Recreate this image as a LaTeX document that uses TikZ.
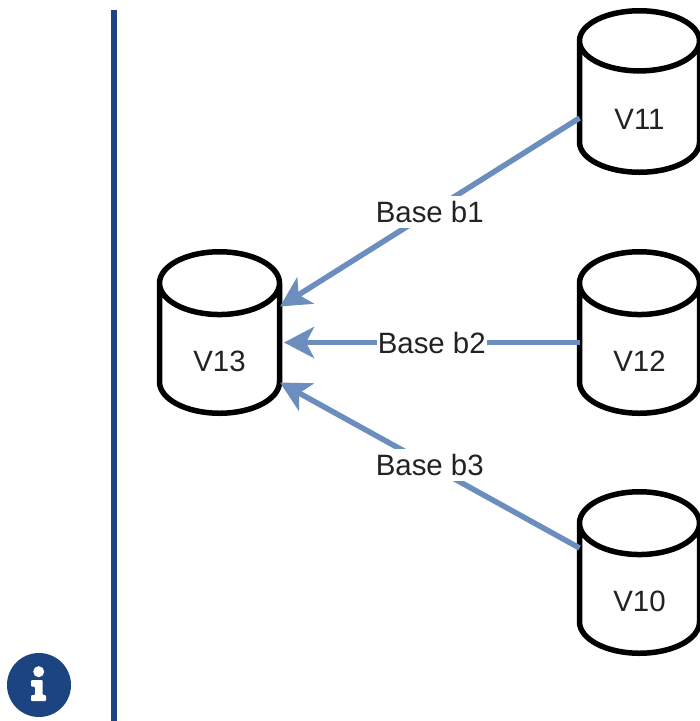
\documentclass[tikz,border=0pt]{standalone}
\usepackage{fontspec}
\setmainfont{Liberation Sans}
\usetikzlibrary{shapes.geometric,arrows.meta}
\definecolor{flowblue}{HTML}{6C8EBF}
\definecolor{barblue}{HTML}{1C4480}
\definecolor{labelgray}{HTML}{222222}
\tikzset{
  volume/.style={cylinder,shape border rotate=90,shape aspect=1.2,draw=black,line width=5.5pt,
    minimum width=120pt,minimum height=161.5pt,inner sep=0pt,outer sep=0pt,text=labelgray,
    anchor=shape center,text height=43pt,text depth=0pt,font=\fontsize{29.4}{32}\selectfont},
  flow/.style={draw=flowblue,line width=5.5pt,-{Stealth[length=30pt,width=31pt,inset=8pt]}},
  base/.style={fill=white,text=labelgray,inner xsep=1pt,inner ysep=5pt,font=\fontsize{29.4}{32}\selectfont}
}
\begin{document}
\begin{tikzpicture}[x=1pt,y=-1pt]
  \useasboundingbox (0,0) rectangle (700,721);
  \fill[white] (0,0) rectangle (700,721);
  \node[volume] (v13) at (219.5,332.5) {V13};
  \node[volume] (v11) at (639.5,91.5) {V11};
  \node[volume] (v12) at (639.5,332.5) {V12};
  \node[volume] (v10) at (639.5,572.5) {V10};
  \coordinate (v13b1) at (280,306.5);
  \coordinate (v13b2) at (284,342.5);
  \coordinate (v13b3) at (280,382.5);
  \coordinate (v11b1) at (579.5,118);
  \coordinate (v12b2) at (579.5,342.5);
  \coordinate (v10b3) at (579.5,548);
  \draw[flow] (v11b1) -- node[base] (b1) {Base b1} (v13b1);
  \draw[flow] (v12b2) -- node[base] (b2) {Base b2} (v13b2);
  \draw[flow] (v10b3) -- node[base] (b3) {Base b3} (v13b3);
  \fill[barblue] (111,10) rectangle (116.5,721);
  \fill[barblue] (39,685) circle (32);
  \fill[white] (38.7,671.7) circle (5.5);
  \fill[white,rounded corners=1pt] (31,680) -- (42.7,680) -- (42.7,695) -- (46,695) -- (46,701)
    -- (31,701) -- (31,695) -- (35,695) -- (35,686.7) -- (31,686.7) -- cycle;
\end{tikzpicture}
\end{document}
